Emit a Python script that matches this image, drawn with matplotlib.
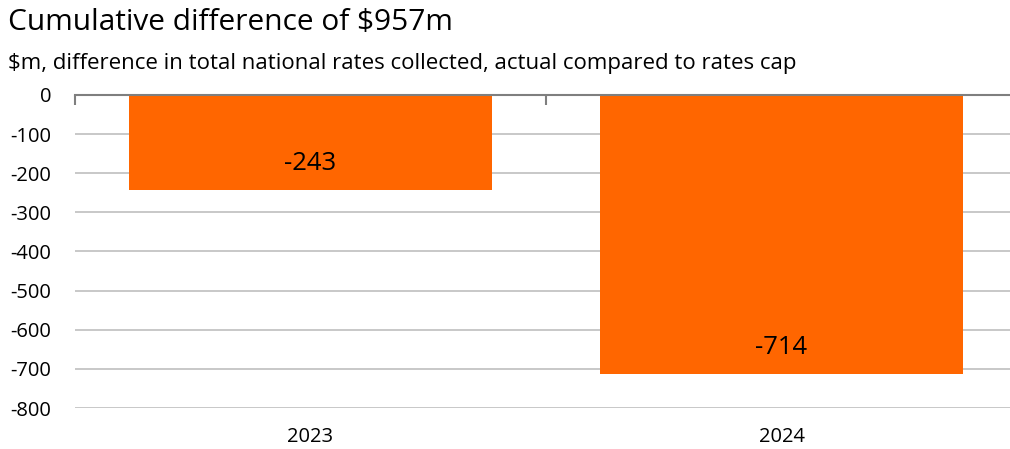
import matplotlib
matplotlib.use('Agg')
import matplotlib.pyplot as plt
from matplotlib.ticker import FixedLocator

plt.rcParams['font.family'] = ['Open Sans', 'DejaVu Sans']

years = ['2023', '2024']
diff_m = [-243, -714]
y_ticks = [0, -100, -200, -300, -400, -500, -600, -700, -800]

BAR_COLOR = '#ff6600'
GRID_COLOR = '#bfbfbf'
AXIS_COLOR = '#7f7f7f'

fig = plt.figure(figsize=(10.1, 4.49), dpi=100)
# plot area runs a little past the right edge of the canvas
ax = fig.add_axes([75 / 1010, 1 - 408 / 449, 942 / 1010, 313 / 449])
ax.set_clip_on(True)

x = list(range(len(years)))
bars = ax.bar(x, diff_m, width=0.769, color=BAR_COLOR, zorder=2)

for rect, v in zip(bars, diff_m):
    ax.annotate(f'{v}', (rect.get_x() + rect.get_width() / 2, v),
                xytext=(0, 27), textcoords='offset pixels',
                ha='center', va='center', fontsize=18.5, color='black')

ax.set_xlim(-0.5, len(years) - 0.5)
ax.set_ylim(-800, 0)
ax.set_yticks(y_ticks)
ax.set_yticklabels([str(t) for t in y_ticks])
ax.set_xticks(x)
ax.set_xticklabels(years)
ax.xaxis.set_minor_locator(FixedLocator([-0.5, 0.5, 1.5]))

ax.yaxis.grid(True, color=GRID_COLOR, linewidth=1.2, zorder=0)
ax.set_axisbelow(True)
for side in ['left', 'right', 'bottom']:
    ax.spines[side].set_visible(False)
ax.spines['top'].set_color(AXIS_COLOR)
ax.spines['top'].set_linewidth(1.5)

ax.tick_params(axis='y', length=0, labelsize=14.5, pad=17)
ax.tick_params(axis='x', which='major', length=0, labelsize=14.5, pad=14)
ax.tick_params(axis='x', which='minor', top=True, bottom=False, direction='in',
               length=7, width=1.5, color=AXIS_COLOR)

fig.text(8 / 1010, 1 - 23 / 449, 'Cumulative difference of $957m', fontsize=21.5,
         va='center', ha='left')
fig.text(8 / 1010, 1 - 63 / 449,
         '$m, difference in total national rates collected, actual compared to rates cap',
         fontsize=16, va='center', ha='left')

fig.savefig('out.png', dpi=100)
